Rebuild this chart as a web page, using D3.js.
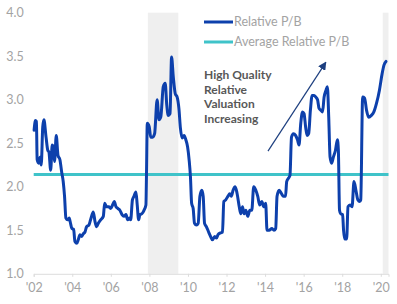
<!DOCTYPE html>
<html>
<head>
<meta charset="utf-8">
<script src="https://cdn.jsdelivr.net/npm/d3@7"></script>
<style>
  body { margin: 0; background: #fff; }
  svg { display: block; font-family: Lato, "Open Sans", sans-serif; }
</style>
</head>
<body>
<div id="chart"></div>
<script>
var width = 397,
    height = 304

// decimal years and relative P/B
var years = [2002.02, 2002.09, 2002.14, 2002.18, 2002.26, 2002.33, 2002.39, 2002.47, 2002.53, 2002.64, 2002.73, 2002.79, 2002.88,
  2002.96, 2003.01, 2003.08, 2003.17, 2003.26, 2003.36, 2003.45, 2003.53, 2003.60, 2003.67, 2003.76, 2003.84, 2003.91, 2003.98,
  2004.07, 2004.14, 2004.24, 2004.31, 2004.40, 2004.49, 2004.57, 2004.66, 2004.74, 2004.86, 2004.95, 2005.09, 2005.18, 2005.26,
  2005.35, 2005.47, 2005.61, 2005.68, 2005.78, 2005.89, 2005.99, 2006.09, 2006.18, 2006.27, 2006.37, 2006.47, 2006.58, 2006.68,
  2006.79, 2006.87, 2006.96, 2007.03, 2007.12, 2007.20, 2007.30, 2007.37, 2007.44, 2007.51, 2007.61, 2007.72, 2007.82, 2007.85,
  2007.89, 2007.99, 2008.07, 2008.17, 2008.27, 2008.40, 2008.50, 2008.59, 2008.72, 2008.82, 2008.90, 2008.98, 2009.07, 2009.15,
  2009.24, 2009.34, 2009.44, 2009.53, 2009.61, 2009.70, 2009.80, 2009.89, 2009.98, 2010.06, 2010.13, 2010.19, 2010.27, 2010.34,
  2010.44, 2010.53, 2010.62, 2010.72, 2010.79, 2010.86, 2010.96, 2011.07, 2011.17, 2011.27, 2011.39, 2011.48, 2011.56, 2011.69,
  2011.79, 2011.86, 2011.96, 2012.07, 2012.17, 2012.25, 2012.34, 2012.45, 2012.55, 2012.66, 2012.74, 2012.83, 2012.91, 2013.00,
  2013.10, 2013.21, 2013.31, 2013.41, 2013.52, 2013.62, 2013.72, 2013.83, 2013.93, 2014.03, 2014.10, 2014.21, 2014.35, 2014.46,
  2014.55, 2014.62, 2014.73, 2014.85, 2014.95, 2015.06, 2015.12, 2015.22, 2015.29, 2015.37, 2015.47, 2015.58, 2015.68, 2015.76,
  2015.85, 2015.94, 2016.02, 2016.10, 2016.18, 2016.26, 2016.35, 2016.44, 2016.54, 2016.63, 2016.72, 2016.80, 2016.89, 2016.98,
  2017.06, 2017.16, 2017.23, 2017.30, 2017.37, 2017.45, 2017.54, 2017.65, 2017.75, 2017.80, 2017.86, 2017.92, 2018.02, 2018.07,
  2018.13, 2018.23, 2018.30, 2018.40, 2018.51, 2018.61, 2018.71, 2018.81, 2018.91, 2018.96, 2019.06, 2019.16, 2019.26, 2019.37,
  2019.51, 2019.64, 2019.78, 2019.93, 2020.07, 2020.17, 2020.27]
var relativePB = [2.65, 2.76, 2.75, 2.31, 2.27, 2.34, 2.25, 2.69, 2.77, 2.57, 2.42, 2.40, 2.19,
  2.48, 2.46, 2.29, 2.59, 2.36, 2.31, 2.17, 2.06, 1.89, 1.64, 1.62, 1.64, 1.58, 1.52,
  1.51, 1.37, 1.35, 1.39, 1.45, 1.43, 1.46, 1.48, 1.54, 1.56, 1.62, 1.71, 1.60, 1.54,
  1.58, 1.62, 1.66, 1.81, 1.77, 1.77, 1.75, 1.79, 1.83, 1.77, 1.75, 1.73, 1.68, 1.66,
  1.68, 1.62, 1.64, 1.62, 1.85, 1.89, 1.94, 1.79, 1.62, 1.68, 1.69, 1.73, 1.79, 2.15,
  2.73, 2.69, 2.57, 2.57, 2.61, 3.00, 2.77, 2.80, 3.15, 3.19, 2.94, 2.82, 2.84, 3.49,
  3.26, 3.07, 3.03, 2.90, 2.67, 2.56, 2.59, 2.54, 2.46, 2.31, 2.11, 1.81, 1.75, 1.58,
  1.56, 1.58, 1.89, 1.96, 1.89, 1.58, 1.54, 1.48, 1.43, 1.39, 1.43, 1.41, 1.45, 1.47,
  1.48, 1.83, 1.85, 1.89, 1.92, 1.89, 1.96, 2.00, 1.92, 1.77, 1.69, 1.77, 1.69, 1.73,
  1.66, 1.73, 1.73, 2.00, 1.96, 1.89, 1.79, 1.83, 1.77, 1.81, 1.50, 1.50, 1.52, 1.50,
  1.52, 1.89, 1.96, 1.92, 1.89, 1.89, 2.06, 2.10, 2.13, 2.57, 2.61, 2.59, 2.54, 2.48,
  2.73, 2.86, 2.84, 2.69, 2.59, 2.61, 2.88, 3.05, 3.05, 3.03, 3.00, 2.90, 2.88, 2.86,
  3.03, 3.11, 3.15, 2.80, 2.34, 2.27, 2.34, 2.42, 2.54, 2.42, 1.73, 1.69, 1.68, 1.50,
  1.40, 1.40, 1.77, 1.79, 1.77, 2.06, 1.96, 1.85, 1.83, 1.85, 3.03, 3.02, 2.88, 2.80,
  2.82, 2.86, 2.96, 3.11, 3.30, 3.40, 3.44]
var averagePB = 2.14

// shaded recession periods
var recessions = [[2007.92, 2009.5], [2020.1, 2020.4]]

var xTicks = [2002, 2004, 2006, 2008, 2010, 2012, 2014, 2016, 2018, 2020]
var xTickLabels = ["'02", "'04", "'06", "'08", "'10", "'12", "'14", "'16", "'18", "'20"]
var yTicks = [1.0, 1.5, 2.0, 2.5, 3.0, 3.5, 4.0]

var legendLabels = ["Relative P/B", "Average Relative P/B"]
var noteLines = ["High Quality", "Relative", "Valuation", "Increasing"]

var blue = "#0d40ac",
    teal = "#3fc3c9",
    grey = "#a3a3a3"

var svg = d3.select("#chart").append("svg")
    .attr("width", width)
    .attr("height", height)

var x = d3.scaleLinear()
    .domain([2002, 2020.4])
    .range([33.7, 388.5])

var y = d3.scaleLinear()
    .domain([1, 4])
    .range([273.8, 12.7])

// shading
svg.selectAll(".rec")
    .data(recessions)
    .enter().append("rect")
    .attr("class", "rec")
    .attr("x", function (d) { return x(d[0]) })
    .attr("y", y(4))
    .attr("width", function (d) { return Math.min(x(d[1]), x.range()[1]) - x(d[0]) })
    .attr("height", y(1) - y(4))
    .attr("fill", "#efefef")

// x axis
var xAxis = d3.axisBottom(x)
    .tickValues(xTicks)
    .tickFormat(function (d, i) { return xTickLabels[i] })
    .tickSize(3)
    .tickPadding(6)

var gx = svg.append("g")
    .attr("transform", "translate(0," + y(1) + ")")
    .call(xAxis)
gx.select(".domain").attr("stroke", "#dcdcdc")
gx.selectAll(".tick line").attr("stroke", "#dcdcdc")
gx.selectAll("text")
    .attr("fill", grey)
    .style("font-size", "12.5px")
    .style("font-family", "Lato, sans-serif")

// y axis
var yAxis = d3.axisLeft(y)
    .tickValues(yTicks)
    .tickFormat(d3.format(".1f"))
    .tickSize(0)
    .tickPadding(10)

var gy = svg.append("g")
    .attr("transform", "translate(33.7,0)")
    .call(yAxis)
gy.select(".domain").remove()
gy.selectAll("text")
    .attr("fill", grey)
    .style("font-size", "12.5px")
    .style("font-family", "Lato, sans-serif")

// average line
svg.append("line")
    .attr("x1", x(2002))
    .attr("x2", x.range()[1])
    .attr("y1", y(averagePB))
    .attr("y2", y(averagePB))
    .attr("stroke", teal)
    .attr("stroke-width", 3)

// relative P/B line
var series = years.map(function (d, i) {
    return { year: d, value: relativePB[i] }
})

var line = d3.line()
    .x(function (d) { return x(d.year) })
    .y(function (d) { return y(d.value) })
    .curve(d3.curveMonotoneX)

svg.append("path")
    .datum(series)
    .attr("fill", "none")
    .attr("stroke", blue)
    .attr("stroke-width", 3)
    .attr("stroke-linejoin", "round")
    .attr("stroke-linecap", "round")
    .attr("d", line)

// legend
var legend = svg.selectAll(".legend")
    .data(legendLabels)
    .enter().append("g")
    .attr("class", "legend")
    .attr("transform", function (d, i) { return "translate(204," + (22 + i * 20) + ")" })

legend.append("line")
    .attr("x1", 0)
    .attr("x2", 29)
    .attr("stroke", function (d, i) { return i == 0 ? blue : teal })
    .attr("stroke-width", 3)

legend.append("text")
    .attr("x", 30)
    .attr("dy", "0.35em")
    .attr("fill", grey)
    .style("font-size", "12.5px")
    .text(function (d) { return d })

// annotation
svg.append("text")
    .attr("fill", "#585858")
    .style("font-size", "12px")
    .style("font-weight", "bold")
    .selectAll("tspan")
    .data(noteLines)
    .enter().append("tspan")
    .attr("x", 204)
    .attr("y", function (d, i) { return 79 + i * 14.7 })
    .text(function (d) { return d })

svg.append("defs").append("marker")
    .attr("id", "arrow")
    .attr("viewBox", "0 0 10 10")
    .attr("refX", 9)
    .attr("refY", 5)
    .attr("markerWidth", 7)
    .attr("markerHeight", 7)
    .attr("orient", "auto")
    .append("path")
    .attr("d", "M0,0L10,5L0,10z")
    .attr("fill", "#1d3f7f")

svg.append("line")
    .attr("x1", x(2014.15))
    .attr("y1", y(2.41))
    .attr("x2", x(2017.15))
    .attr("y2", y(3.43))
    .attr("stroke", "#1d3f7f")
    .attr("stroke-width", 1.2)
    .attr("marker-end", "url(#arrow)")
</script>
</body>
</html>
